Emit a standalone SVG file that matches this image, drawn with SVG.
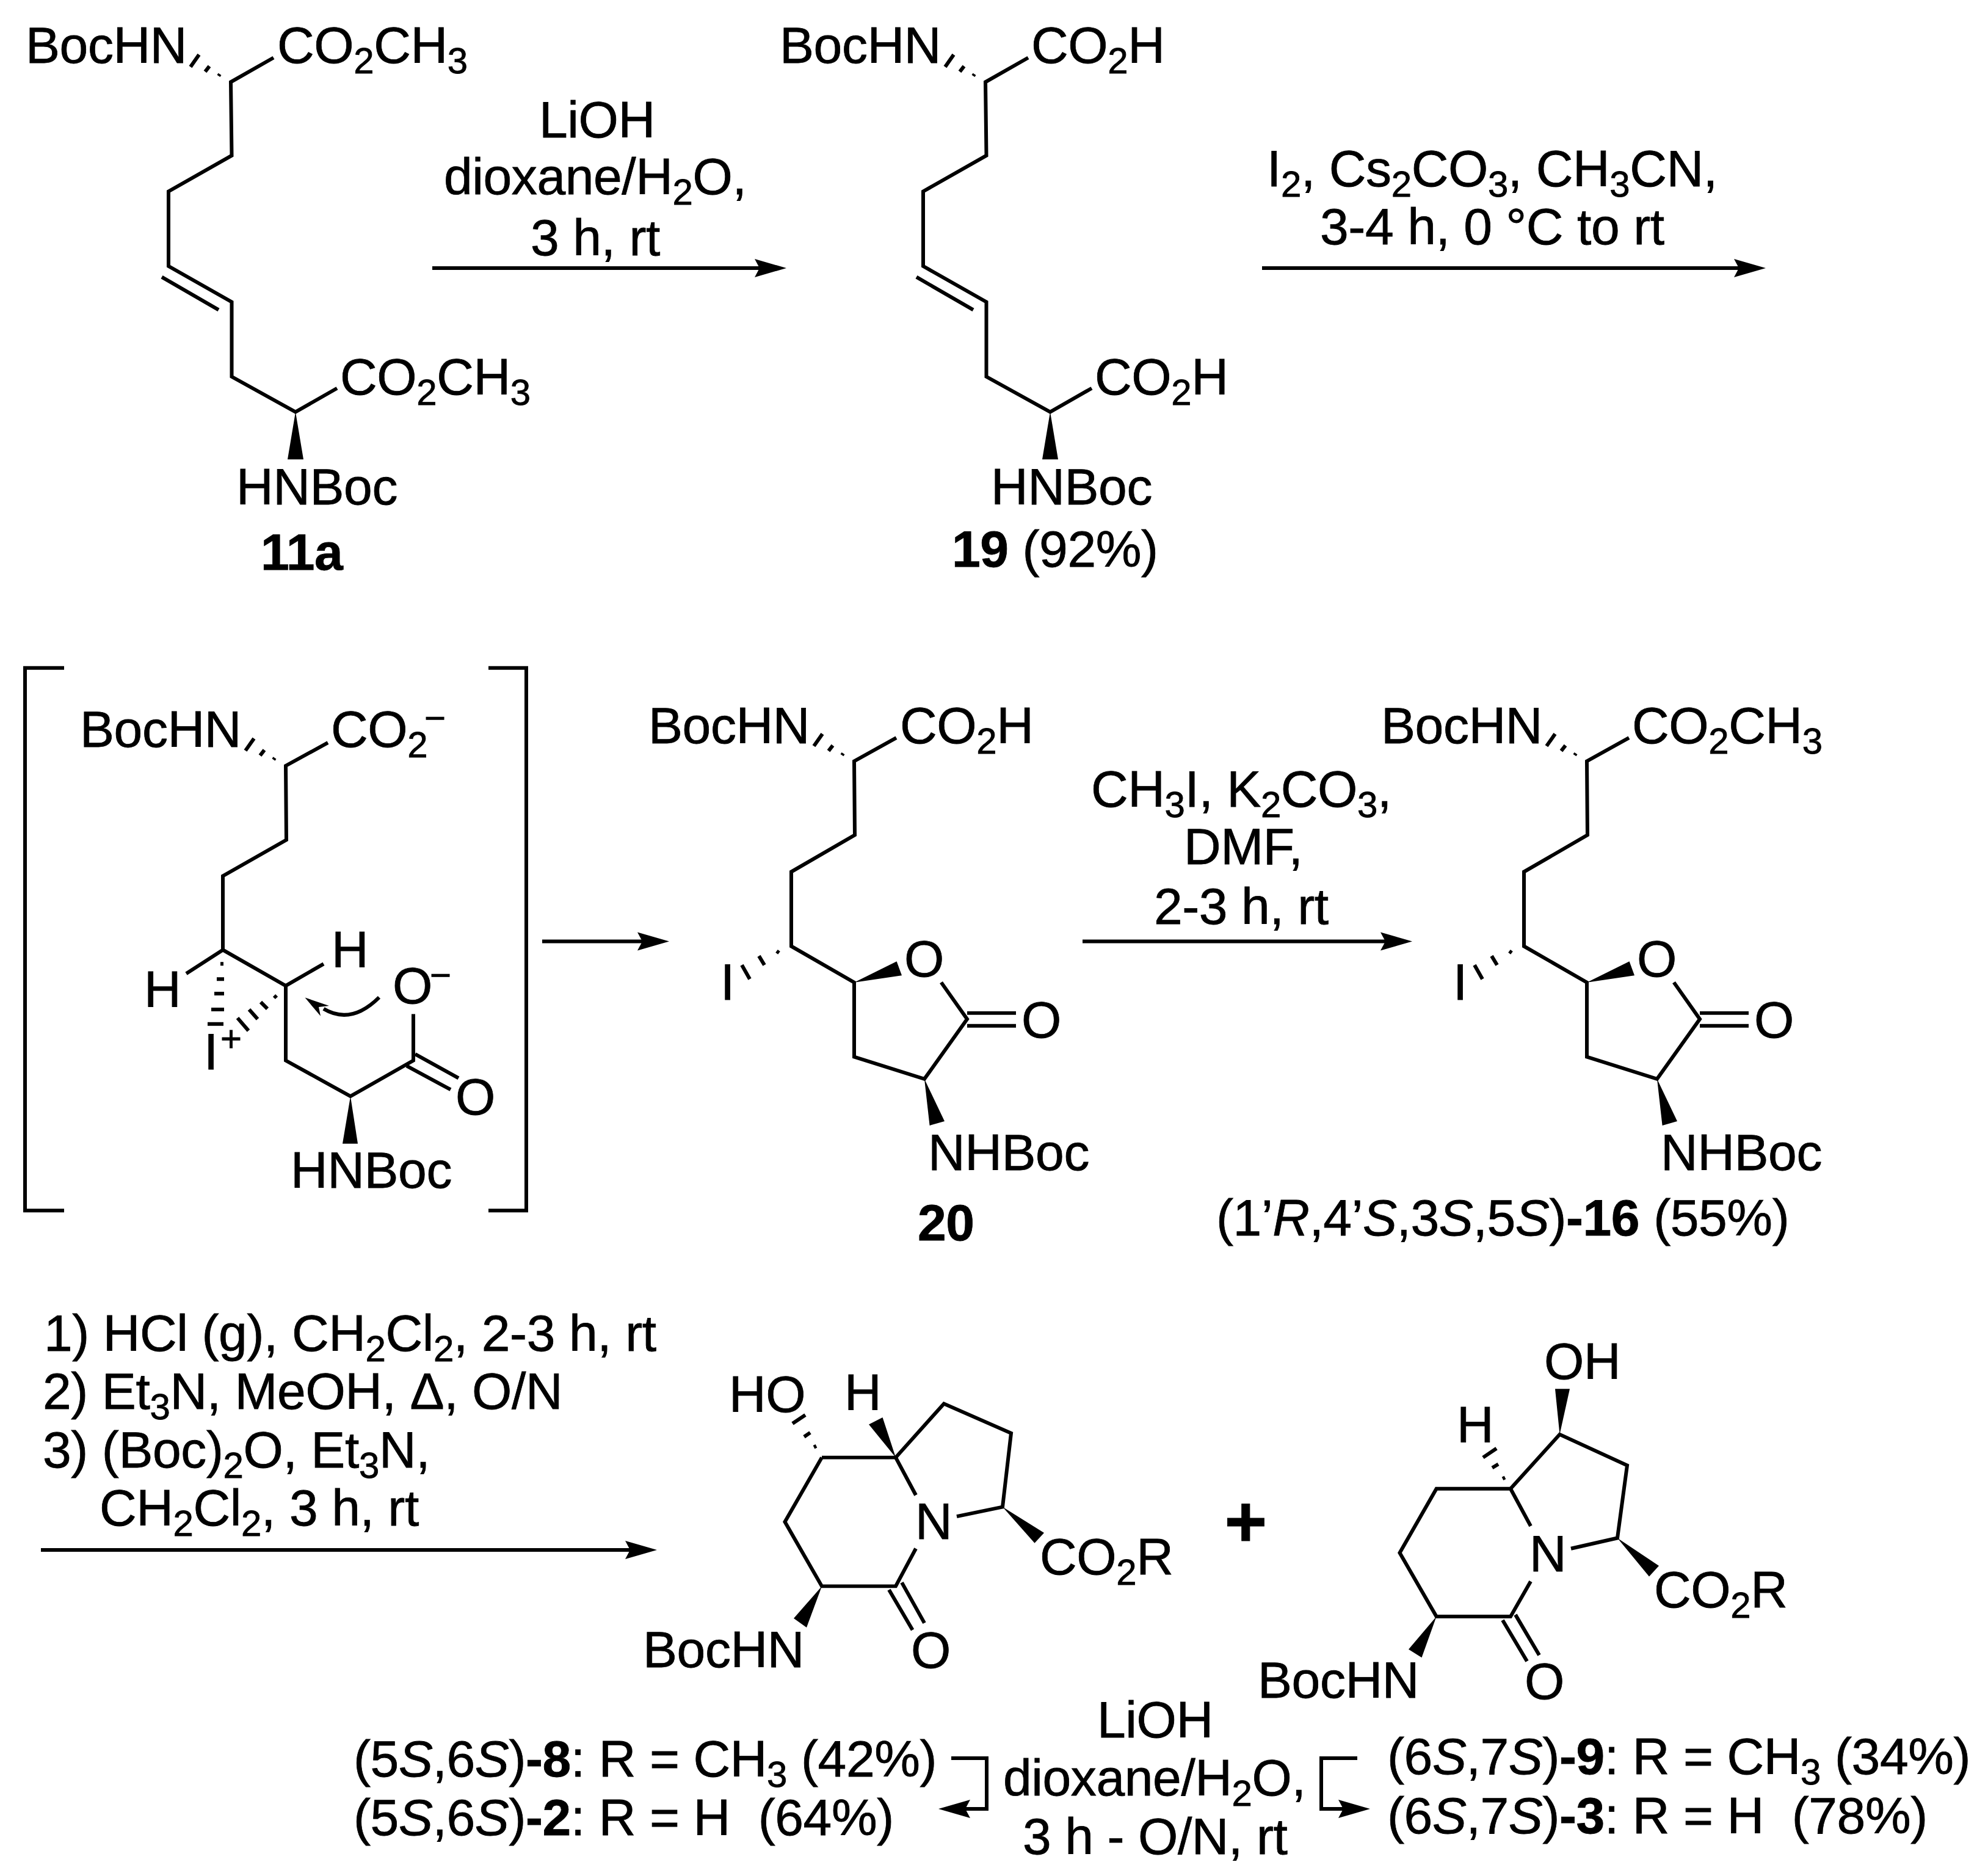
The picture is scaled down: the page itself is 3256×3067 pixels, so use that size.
<svg xmlns="http://www.w3.org/2000/svg" xmlns:xlink="http://www.w3.org/1999/xlink" width="3256" height="3067" viewBox="0 0 3256 3067">
<style>
text{font-family:"Liberation Sans",Arial,sans-serif;font-size:84px;letter-spacing:-0.4px;fill:#000;stroke:#000;stroke-width:0.8px;white-space:pre;transform:translate(-4px,0)}
.s{font-size:60px}
.b{font-weight:bold}
.i{font-style:italic}
.l{fill:none;stroke:#000;stroke-width:6}
.a{fill:none;stroke:#000;stroke-width:6}
.f{fill:#000;stroke:none}
</style>
<defs>
<g id="hashN" class="l"><path d="M-20 -10L-18 -13M-42 -17L-35 -26M-66 -25L-52 -45"/></g>
<g id="chain">
<path class="l" d="M448 95L378 135L379.500 256L276 315L276 438L379.500 497L379.500 620L484 678L552 639"/>
<path class="l" d="M265 456L358 510"/>
<polygon class="f" points="484,678 471,756 497,756"/>
<use href="#hashN" x="378" y="135"/>
</g>
<g id="lactone">
<path class="l" d="M1468 1209L1399 1247.500L1400 1369L1296 1429.500L1296 1552L1399 1611.500L1399 1734L1514 1770.500L1584 1672L1541.500 1611.500"/>
<path class="l" d="M1584 1662L1664 1662M1584 1683L1664 1683"/>
<polygon class="f" points="1399,1611.500 1468.600,1577 1477,1600"/>
<polygon class="f" points="1514,1770.500 1522.600,1847 1547,1840"/>
<use href="#hashN" x="1399" y="1247.500"/>
<path class="l" d="M1276 1563L1272 1560M1252 1583L1243 1568M1228 1606L1215 1583"/>
</g>
<g id="head"><polygon class="f" points="0,0 -52,-15 -44,0 -52,15"/></g>
</defs>

<g id="connectors">
<path class="a" d="M708 439L1250 439"/><use href="#head" x="1288" y="439"/>
<path class="a" d="M2067 439L2850 439"/><use href="#head" x="2892" y="439"/>
<path class="a" d="M888 1541.500L1060 1541.500"/><use href="#head" x="1096" y="1541.500"/>
<path class="a" d="M1773 1541.500L2280 1541.500"/><use href="#head" x="2313" y="1541.500"/>
<path class="a" d="M67 2538L1035 2538"/><use href="#head" x="1076" y="2538"/>
<path class="a" d="M1558 2879L1616 2879L1616 2962L1560 2962"/><use href="#head" transform="translate(1537 2962) rotate(180)"/>
<path class="a" d="M2223 2879L2164 2879L2164 2962L2220 2962"/><use href="#head" x="2244" y="2962"/>
</g>

<g id="reagents-1" transform="scale(1 .9949)">
<text x="887" y="226">LiOH</text>
<text x="731" y="320">dioxane/H<tspan class="s" dy="17">2</tspan><tspan dy="-17">O,</tspan></text>
<text x="873" y="420">3 h, rt</text>
</g>
<g id="reagents-2">
<text x="2079" y="305">I<tspan class="s" dy="17">2</tspan><tspan dy="-17">, Cs</tspan><tspan class="s" dy="17">2</tspan><tspan dy="-17">CO</tspan><tspan class="s" dy="17">3</tspan><tspan dy="-17">, CH</tspan><tspan class="s" dy="17">3</tspan><tspan dy="-17">CN,</tspan></text>
<text x="2166" y="400">3-4 h, 0 °C to rt</text>
</g>
<g id="reagents-3" transform="matrix(1 0 0 .9949 0 5.36)">
<text x="1791" y="1322">CH<tspan class="s" dy="17">3</tspan><tspan dy="-17">I, K</tspan><tspan class="s" dy="17">2</tspan><tspan dy="-17">CO</tspan><tspan class="s" dy="17">3</tspan><tspan dy="-17">,</tspan></text>
<text x="1943" y="1417">DMF,</text>
<text x="1894" y="1515">2-3 h, rt</text>
</g>
<g id="reagents-4">
<text x="76" y="2212">1) HCl (g), CH<tspan class="s" dy="17">2</tspan><tspan dy="-17">Cl</tspan><tspan class="s" dy="17">2</tspan><tspan dy="-17">, 2-3 h, rt</tspan></text>
<text x="74" y="2307">2) Et<tspan class="s" dy="17">3</tspan><tspan dy="-17">N, MeOH, Δ, O/N</tspan></text>
<text x="74" y="2403">3) (Boc)<tspan class="s" dy="17">2</tspan><tspan dy="-17">O, Et</tspan><tspan class="s" dy="17">3</tspan><tspan dy="-17">N,</tspan></text>
<text x="167" y="2498">CH<tspan class="s" dy="17">2</tspan><tspan dy="-17">Cl</tspan><tspan class="s" dy="17">2</tspan><tspan dy="-17">, 3 h, rt</tspan></text>
</g>
<g id="reagents-5" transform="matrix(1 0 0 .9942 0 12.47)">
<text x="1801" y="2849">LiOH</text>
<text x="1647" y="2945">dioxane/H<tspan class="s" dy="17">2</tspan><tspan dy="-17">O,</tspan></text>
<text x="1679" y="3041">3 h - O/N, rt</text>
</g>

<g id="node-11a" transform="scale(1 .9949)">
<use href="#chain"/>
<text x="46" y="104">BocHN</text>
<text x="458" y="104">CO<tspan class="s" dy="17">2</tspan><tspan dy="-17">CH</tspan><tspan class="s" dy="17">3</tspan></text>
<text x="561" y="649">CO<tspan class="s" dy="17">2</tspan><tspan dy="-17">CH</tspan><tspan class="s" dy="17">3</tspan></text>
<text x="391" y="830">HNBoc</text>
<text class="b" x="431" y="938">11a</text>
</g>
<g id="node-19" transform="scale(1 .9949)">
<use href="#chain" x="1236"/>
<text x="1281" y="104">BocHN</text>
<text x="1693" y="104">CO<tspan class="s" dy="17">2</tspan><tspan dy="-17">H</tspan></text>
<text x="1797" y="649">CO<tspan class="s" dy="17">2</tspan><tspan dy="-17">H</tspan></text>
<text x="1627" y="830">HNBoc</text>
<text x="1563" y="933"><tspan class="b">19</tspan> (92%)</text>
</g>
<g id="node-intermediate" transform="matrix(1 0 0 .9949 0 5.36)">
<path class="l" d="M105 1094L41 1094L41 1987L105 1987M800 1094L862 1094L862 1987L800 1987"/>
<path class="l" d="M537 1217L468 1255L469 1377L365 1436.500L365 1558L468 1617L468 1740L574 1799L677 1740L677 1663.500"/>
<path class="l" d="M365 1558L305 1597M468 1617L530 1581M680 1729.500L751 1769M666 1749L738 1788"/>
<polygon class="f" points="574,1799 561,1877 586,1877"/>
<use href="#hashN" x="468" y="1255"/>
<path class="l" d="M361 1581L366 1581M355 1606L367 1606M351 1630L367 1630M346 1656L367 1656M340 1680L366 1680"/>
<path class="l" d="M449 1633L453 1637M427 1644L438 1655M408 1656L422 1672M389 1670L407 1691"/>
<path class="l" d="M621 1636Q575 1682 530 1655"/>
<polygon class="f" points="499.500,1636.500 539,1650 522,1652 525,1667"/>
<text x="135" y="1224">BocHN</text>
<text x="546" y="1224">CO<tspan class="s" dy="17">2</tspan><tspan class="s" x="699" y="1197">−</tspan></text>
<text x="240" y="1652">H</text>
<text x="547" y="1587">H</text>
<text x="338" y="1755">I<tspan class="s" x="365" y="1724">+</tspan></text>
<text x="647" y="1646">O<tspan class="s" x="708" y="1620">−</tspan></text>
<text x="750" y="1829">O</text>
<text x="480" y="1950">HNBoc</text>
</g>
<g id="node-20" transform="matrix(1 0 0 .9949 0 5.36)">
<use href="#lactone"/>
<text x="1066" y="1218">BocHN</text>
<text x="1478" y="1218">CO<tspan class="s" dy="17">2</tspan><tspan dy="-17">H</tspan></text>
<text x="1184" y="1640">I</text>
<text x="1485" y="1602">O</text>
<text x="1677" y="1702">O</text>
<text x="1524" y="1920">NHBoc</text>
<text class="b" x="1507" y="2036">20</text>
</g>
<g id="node-16" transform="matrix(1 0 0 .9949 0 5.36)">
<use href="#lactone" x="1200"/>
<text x="2266" y="1218">BocHN</text>
<text x="2677" y="1218">CO<tspan class="s" dy="17">2</tspan><tspan dy="-17">CH</tspan><tspan class="s" dy="17">3</tspan></text>
<text x="2384" y="1640">I</text>
<text x="2685" y="1602">O</text>
<text x="2877" y="1702">O</text>
<text x="2724" y="1920">NHBoc</text>
</g>
<g id="label-16">
<text x="1996" y="2023">(1’<tspan class="i">R</tspan>,4’<tspan class="i">S</tspan>,3<tspan class="i">S</tspan>,5<tspan class="i">S</tspan>)<tspan class="b">-16</tspan> (55%)</text>
</g>
<g id="node-8" transform="matrix(1 0 0 .9942 0 12.47)">
<path class="l" d="M1346 2388L1467 2388L1546 2299.400L1656 2348L1642 2469.400L1567 2485"/>
<path class="l" d="M1467 2388L1500 2450M1500 2538L1467 2600L1346 2600L1285.500 2494L1346 2388"/>
<path class="l" d="M1477 2594L1514 2660.600M1456 2606L1494.600 2672"/>
<polygon class="f" points="1346,2600 1300,2653 1321,2668"/>
<polygon class="f" points="1467,2388 1423,2333.500 1445.500,2322"/>
<polygon class="f" points="1642,2469.400 1710,2512 1694.500,2529"/>
<path class="l" d="M1333 2371L1337 2369M1317 2354L1327 2347M1298 2332L1319 2318"/>
<text x="1198" y="2313">HO</text>
<text x="1387" y="2310">H</text>
<text x="1503" y="2522">N</text>
<text x="1707" y="2581">CO<tspan class="s" dy="17">2</tspan><tspan dy="-17">R</tspan></text>
<text x="1057" y="2733">BocHN</text>
<text x="1496" y="2734">O</text>
</g>
<g id="plus" transform="matrix(1 0 0 .9942 0 12.47)"><text class="b" x="2044" y="2534" text-anchor="middle" style="font-size:120px">+</text></g>
<g id="node-9" transform="matrix(1 0 0 .9942 0 12.47)">
<path class="l" d="M2474 2439.400L2554.500 2350L2665 2401L2649 2520.600L2573 2538"/>
<path class="l" d="M2474 2439.400L2352.600 2439.400L2292.500 2545L2352.600 2650L2474 2650L2507 2592M2474 2439.400L2507 2501"/>
<path class="l" d="M2482 2647L2521 2713.500M2461 2656L2501 2723.500"/>
<polygon class="f" points="2554.500,2350 2547,2275 2571,2275"/>
<polygon class="f" points="2352.600,2650 2307,2704 2328.500,2717.600"/>
<polygon class="f" points="2649,2520.600 2717,2566.500 2701,2584"/>
<path class="l" d="M2461 2423L2465 2421M2444 2405L2454 2399M2429 2388L2451 2373"/>
<text x="2533" y="2259">OH</text>
<text x="2390" y="2363">H</text>
<text x="2509" y="2575">N</text>
<text x="2713" y="2635">CO<tspan class="s" dy="17">2</tspan><tspan dy="-17">R</tspan></text>
<text x="2064" y="2784">BocHN</text>
<text x="2501" y="2786">O</text>
</g>
<g id="labels-bottom">
<text x="583" y="2909">(5<tspan class="i">S</tspan>,6<tspan class="i">S</tspan>)<tspan class="b">-8</tspan>: R = CH<tspan class="s" dy="17">3</tspan><tspan dy="-17"> (42%)</tspan></text>
<text x="583" y="3005">(5<tspan class="i">S</tspan>,6<tspan class="i">S</tspan>)<tspan class="b">-2</tspan>: R = H  (64%)</text>
<text x="2276" y="2905">(6<tspan class="i">S</tspan>,7<tspan class="i">S</tspan>)<tspan class="b">-9</tspan>: R = CH<tspan class="s" dy="17">3</tspan><tspan dy="-17"> (34%)</tspan></text>
<text x="2276" y="3002">(6<tspan class="i">S</tspan>,7<tspan class="i">S</tspan>)<tspan class="b">-3</tspan>: R = H  (78%)</text>
</g>
</svg>
